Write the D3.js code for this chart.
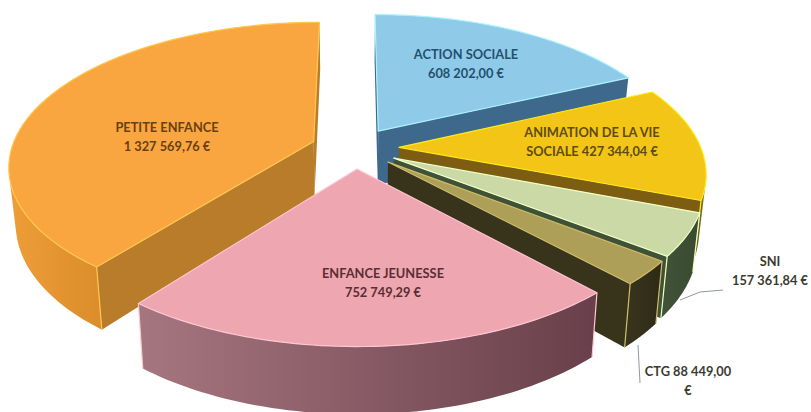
<!DOCTYPE html>
<html lang="fr">
<head>
<meta charset="utf-8">
<script src="https://cdn.jsdelivr.net/npm/d3@7"></script>
<style>
  html, body { margin: 0; padding: 0; background: #fff; }
  svg { display: block; }
  text { font-family: Lato, "Open Sans", sans-serif; font-weight: 700; text-anchor: middle; }
</style>
</head>
<body>
<svg id="chart" width="811" height="412"></svg>
<script>
// Budget par secteur, dans le sens horaire à partir de midi
const categories = ["ACTION SOCIALE", "ANIMATION DE LA VIE SOCIALE", "SNI", "CTG", "ENFANCE JEUNESSE", "PETITE ENFANCE"];
const values = [608202.00, 427344.04, 157361.84, 88449.00, 752749.29, 1327569.76];
const labelLines = [
  ["ACTION SOCIALE", "608 202,00 €"],
  ["ANIMATION DE LA VIE", "SOCIALE 427 344,04 €"],
  ["SNI", "157 361,84 €"],
  ["CTG 88 449,00", "€"],
  ["ENFANCE JEUNESSE", "752 749,29 €"],
  ["PETITE ENFANCE", "1 327 569,76 €"]
];
const topColors = ["#8fcbe8", "#f2c516", "#cad9a6", "#ad9e58", "#eea6b0", "#f9a641"];
const sideColors = ["#3f698c", "#7d5d12", "#3f5237", "#38331b", "#8f5f6b", "#b97c2a"];
const wallFrom = ["#3f698c", "#6f6a20", "#3f5237", "#38331b", "#a67680", "#ee9d38"];
const wallTo = ["#2f5170", "#a67f10", "#394a30", "#2e2a16", "#683f4a", "#dc8e2c"];
const textColors = ["#24506f", "#5f4c10", "#3b3b30", "#3b3b30", "#5a2e33", "#6a3f14"];
const labelAnchors = [[466, 55], [592, 133], [770, 262], [688, 372], [383, 274], [167, 128]];

// Paramètres de la vue en perspective
const width = 811, height = 412;
const cx = 355, cy = 148;
const radius = 302, explode = 44, depth = 55;
const tilt = 0.466, focal = 1840, baseShrink = 0.98;
const lineGap = 18.5;

const svg = d3.select("#chart");
const defs = svg.append("defs");

const arcs = d3.pie().sort(null).startAngle(0).endAngle(2 * Math.PI)(values);

// Point du plan du disque vers l'écran ; bottom = face inférieure
function project(u, v, bottom) {
  const p = focal / (focal + v);
  const s = bottom ? baseShrink : 1;
  return [cx + u * p * s, cy - tilt * v * p + (bottom ? depth * p : 0)];
}

const pathOf = d3.line().curve(d3.curveLinearClosed);
const strokeOf = d3.line();

// Contour d'une part : centre, puis arc de cercle dans le sens horaire
function outline(d) {
  const mid = (d.startAngle + d.endAngle) / 2;
  const ox = explode * Math.sin(mid), oy = explode * Math.cos(mid);
  const angles = d3.range(0, 61).map(i => d.startAngle + (d.endAngle - d.startAngle) * i / 60);
  const rim = angles.map(a => [ox + radius * Math.sin(a), oy + radius * Math.cos(a)]);
  return { apex: [ox, oy], rim };
}

// Ordre de tracé : du fond vers l'avant
const drawOrder = [0, 5, 1, 2, 3, 4];

drawOrder.forEach(i => {
  const { apex, rim } = outline(arcs[i]);
  const g = svg.append("g");
  const edgeColor = d3.color(topColors[i]).brighter(0.5).formatHex();

  // Parois radiales tournées vers l'observateur
  const walls = [[rim[rim.length - 1], apex], [apex, rim[0]]];
  walls.forEach(([a, b]) => {
    const poly = [project(...a, false), project(...b, false), project(...b, true), project(...a, true)];
    if (d3.polygonArea(poly) > 0) {
      g.append("path").attr("d", pathOf(poly)).attr("fill", sideColors[i]);
    }
  });

  // Paroi extérieure courbe, limitée à sa portion visible
  const visible = d3.range(rim.length - 1).filter(k => {
    const quad = [project(...rim[k], false), project(...rim[k + 1], false),
                  project(...rim[k + 1], true), project(...rim[k], true)];
    return d3.polygonArea(quad) > 0;
  });
  const topRim = rim.map(p => project(...p, false));
  if (visible.length) {
    const part = rim.slice(visible[0], visible[visible.length - 1] + 2);
    const upper = part.map(p => project(...p, false));
    const lower = part.map(p => project(...p, true));
    const gradId = "wall" + i;
    const grad = defs.append("linearGradient").attr("id", gradId)
      .attr("gradientUnits", "userSpaceOnUse")
      .attr("x1", d3.min(upper, p => p[0])).attr("y1", 0)
      .attr("x2", d3.max(upper, p => p[0])).attr("y2", 0);
    grad.append("stop").attr("offset", 0).attr("stop-color", wallFrom[i]);
    grad.append("stop").attr("offset", 1).attr("stop-color", wallTo[i]);
    g.append("path")
      .attr("d", pathOf(upper.concat(lower.slice().reverse())))
      .attr("fill", `url(#${gradId})`);
  }

  // Arêtes verticales claires aux coins avant de la part
  [rim[0], rim[rim.length - 1]].filter(p => p[1] < 0).forEach(p => {
    g.append("path")
      .attr("d", strokeOf([project(...p, false), project(...p, true)]))
      .attr("fill", "none")
      .attr("stroke", edgeColor)
      .attr("stroke-width", 1.2);
  });

  // Face supérieure avec son liseré clair
  const topFace = [project(...apex, false)].concat(topRim);
  g.append("path")
    .attr("d", pathOf(topFace))
    .attr("fill", topColors[i])
    .attr("stroke", edgeColor)
    .attr("stroke-width", 1.2)
    .attr("stroke-linejoin", "round");
});

// Traits de rappel des deux petites parts
const leaders = [
  [[723, 290], [700, 292], [680, 300]],
  [[638, 345], [640, 383]]
];
leaders.forEach(points => {
  svg.append("path").attr("d", strokeOf(points))
    .attr("fill", "none").attr("stroke", "#8f9aa3").attr("stroke-width", 1);
});

// Étiquettes
categories.forEach((name, i) => {
  const t = svg.append("text")
    .attr("fill", textColors[i])
    .attr("font-size", 12.8)
    .attr("aria-label", name);
  labelLines[i].forEach((line, j) => {
    t.append("tspan")
      .attr("x", labelAnchors[i][0])
      .attr("y", labelAnchors[i][1] + j * lineGap + 4)
      .text(line);
  });
});
</script>
</body>
</html>
